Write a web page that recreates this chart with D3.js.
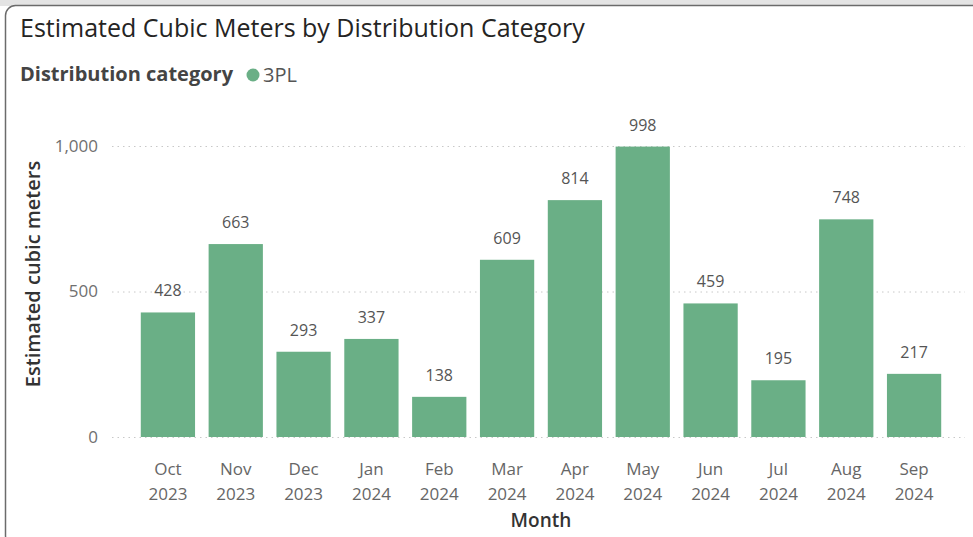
<!DOCTYPE html>
<html>
<head>
<meta charset="utf-8">
<script src="https://cdn.jsdelivr.net/npm/d3@7"></script>
<style>
  body { margin: 0; background: #fff; }
  svg { display: block; font-family: "Segoe UI", "Open Sans", sans-serif; }
</style>
</head>
<body>
<svg id="chart"></svg>
<script>
const months = ['Oct', 'Nov', 'Dec', 'Jan', 'Feb', 'Mar', 'Apr', 'May', 'Jun', 'Jul', 'Aug', 'Sep'];
const years = ['2023', '2023', '2023', '2024', '2024', '2024', '2024', '2024', '2024', '2024', '2024', '2024'];
const volumes = [428, 663, 293, 337, 138, 609, 814, 998, 459, 195, 748, 217];
const yTicks = [0, 500, 1000];

const width = 973;
const height = 537;
const barColor = '#6aaf86';

const svg = d3.select('#chart')
  .attr('width', width)
  .attr('height', height);

// card frame
svg.append('rect')
  .attr('x', 0).attr('y', 0)
  .attr('width', width).attr('height', 6)
  .attr('fill', '#e4e4e4');
svg.append('rect')
  .attr('x', 5.5).attr('y', 5.5)
  .attr('width', 990).attr('height', 540)
  .attr('rx', 10)
  .attr('fill', '#fff')
  .attr('stroke', '#6b6b6b')
  .attr('stroke-width', 1.5);

// title + legend
svg.append('text')
  .attr('x', 20).attr('y', 37)
  .attr('font-size', 25)
  .attr('fill', '#252423')
  .text('Estimated Cubic Meters by Distribution Category');

svg.append('text')
  .attr('x', 20).attr('y', 81)
  .attr('font-size', 20)
  .attr('font-weight', 'bold')
  .attr('fill', '#444')
  .text('Distribution category');
svg.append('circle')
  .attr('cx', 253).attr('cy', 75).attr('r', 6.5)
  .attr('fill', barColor);
svg.append('text')
  .attr('x', 263).attr('y', 82)
  .attr('font-size', 20)
  .attr('fill', '#555')
  .text('3PL');

// scales
const x = d3.scaleBand()
  .domain(months.map((m, i) => i))
  .range([134, 948])
  .paddingInner(0.2)
  .paddingOuter(0.1);

const y = d3.scaleLinear()
  .domain([0, 1000])
  .range([437, 146]);

// grid + y labels
const yAxis = d3.axisLeft(y)
  .tickValues(yTicks)
  .tickSize(-(965 - 112))
  .tickPadding(14)
  .tickFormat(d3.format(','));

const gy = svg.append('g')
  .attr('transform', 'translate(112,0)')
  .call(yAxis);
gy.select('.domain').remove();
gy.selectAll('.tick line')
  .attr('stroke', '#c8c8c8')
  .attr('stroke-dasharray', '1.5,4');
gy.selectAll('.tick text')
  .attr('font-size', 17)
  .attr('fill', '#707070')
  .attr('font-family', '"Segoe UI", "Open Sans", sans-serif');

svg.append('text')
  .attr('transform', 'translate(40,274) rotate(-90)')
  .attr('text-anchor', 'middle')
  .attr('font-size', 20)
  .attr('font-weight', 600)
  .attr('fill', '#333')
  .text('Estimated cubic meters');

// bars
svg.selectAll('rect.bar')
  .data(volumes)
  .enter()
  .append('rect')
  .attr('class', 'bar')
  .attr('x', (d, i) => x(i))
  .attr('y', d => y(d))
  .attr('width', x.bandwidth())
  .attr('height', d => y(0) - y(d))
  .attr('fill', barColor);

svg.selectAll('text.val')
  .data(volumes)
  .enter()
  .append('text')
  .attr('class', 'val')
  .attr('x', (d, i) => x(i) + x.bandwidth() / 2)
  .attr('y', d => y(d) - 16)
  .attr('text-anchor', 'middle')
  .attr('font-size', 16)
  .attr('fill', '#555')
  .text(d => d3.format(',')(d));

// x labels
const xl = svg.selectAll('g.xl')
  .data(months)
  .enter()
  .append('g')
  .attr('class', 'xl')
  .attr('transform', (d, i) => `translate(${x(i) + x.bandwidth() / 2},0)`);
xl.append('text')
  .attr('y', 475)
  .attr('text-anchor', 'middle')
  .attr('font-size', 17)
  .attr('fill', '#666')
  .text(d => d);
xl.append('text')
  .attr('y', 500)
  .attr('text-anchor', 'middle')
  .attr('font-size', 17)
  .attr('fill', '#666')
  .text((d, i) => years[i]);

svg.append('text')
  .attr('x', 541).attr('y', 527)
  .attr('text-anchor', 'middle')
  .attr('font-size', 19)
  .attr('font-weight', 600)
  .attr('fill', '#333')
  .text('Month');
</script>
</body>
</html>
